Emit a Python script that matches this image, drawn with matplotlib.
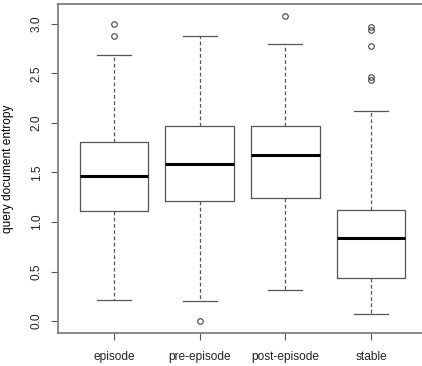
import matplotlib
matplotlib.use("Agg")
import matplotlib.pyplot as plt

# ── Box statistics ────────────────────────────────────────────────────────────
groups   = ["episode", "pre-episode", "post-episode", "stable"]
whislo   = [0.21, 0.20, 0.31, 0.07]
q1       = [1.11, 1.21, 1.245, 0.44]
medians  = [1.46, 1.59, 1.68, 0.84]
q3       = [1.81, 1.97, 1.97, 1.12]
whishi   = [2.69, 2.88, 2.80, 2.12]
outliers = [
    [3.00, 2.88],
    [0.00],
    [3.08],
    [2.97, 2.94, 2.78, 2.46, 2.43],
]
yticks = [0.0, 0.5, 1.0, 1.5, 2.0, 2.5, 3.0]

stats = []
for i, g in enumerate(groups):
    stats.append({
        "label": g, "whislo": whislo[i], "q1": q1[i], "med": medians[i],
        "q3": q3[i], "whishi": whishi[i], "fliers": outliers[i],
    })

plt.rcParams.update({
    "font.family": ["Liberation Sans", "DejaVu Sans"],
    "font.size": 8.6,
})

fig = plt.figure(figsize=(4.22, 3.66), dpi=100)
ax = fig.add_axes([58 / 422, 1 - 333 / 366, 1 - 58 / 422, (333 - 4) / 366])

grey = "#555555"
ax.bxp(stats, positions=range(1, 5), widths=0.8, showfliers=True,
       boxprops=dict(color=grey, linewidth=0.9),
       whiskerprops=dict(color=grey, linewidth=0.9, linestyle=(0, (3, 2))),
       capprops=dict(color=grey, linewidth=0.9),
       medianprops=dict(color="black", linewidth=2.2),
       flierprops=dict(marker="o", markersize=4, markerfacecolor="none",
                       markeredgecolor="#444444", markeredgewidth=0.8))

ax.set_xlim(1 - 56 / 85.7, 4 + 51 / 85.7)
ax.set_ylim(-0.12, 3.2)
ax.set_yticks(yticks)
ax.set_yticklabels([f"{v:.1f}" for v in yticks], rotation=90, va="center")
ax.set_xticks(range(1, 5))
ax.set_xticklabels(groups)
ax.set_ylabel("query document entropy", labelpad=12)

for side in ["top", "left", "bottom"]:
    ax.spines[side].set_color("#777777")
    ax.spines[side].set_linewidth(1.2)
ax.spines["right"].set_visible(False)
ax.tick_params(direction="out", length=5, color="#555555", width=0.8,
               labelcolor="#222222")
ax.tick_params(axis="x", pad=8)
ax.tick_params(axis="y", pad=6)

fig.savefig("out.png", dpi=100)
